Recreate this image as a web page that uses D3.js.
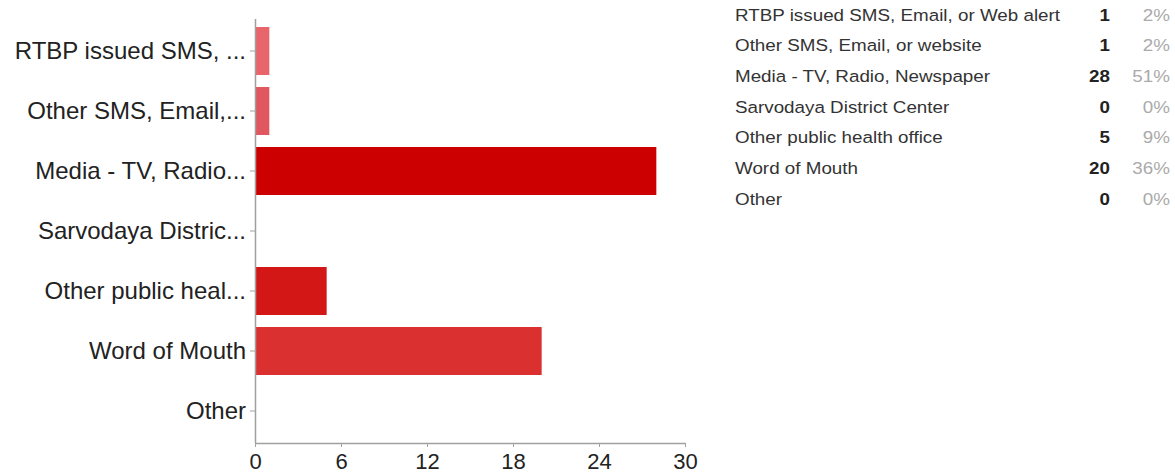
<!DOCTYPE html>
<html>
<head>
<meta charset="utf-8">
<script src="https://cdn.jsdelivr.net/npm/d3@7"></script>
<style>
  body { margin: 0; background: #fff; }
  svg { display: block; font-family: "Liberation Sans", Arial, sans-serif; }
</style>
</head>
<body>
<div id="chart"></div>
<script>
const axisLabels = [
  "RTBP issued SMS, ...",
  "Other SMS, Email,...",
  "Media - TV, Radio...",
  "Sarvodaya Distric...",
  "Other public heal...",
  "Word of Mouth",
  "Other",
];
const fullLabels = [
  "RTBP issued SMS, Email, or Web alert",
  "Other SMS, Email, or website",
  "Media - TV, Radio, Newspaper",
  "Sarvodaya District Center",
  "Other public health office",
  "Word of Mouth",
  "Other",
];
const counts = [1, 1, 28, 0, 5, 20, 0];
const percents = ["2%", "2%", "51%", "0%", "9%", "36%", "0%"];
const barColors = ["#e9656c", "#e0575f", "#cc0000", "#cc0000", "#d31717", "#da3030", "#cc0000"];
const xTicks = [0, 6, 12, 18, 24, 30];

const width = 1175;
const height = 475;
const stretch = 1.14;

const svg = d3
  .select("#chart")
  .append("svg")
  .attr("width", width)
  .attr("height", height)
  .attr("viewBox", [0, 0, width, height]);

const xScale = d3.scaleLinear().domain([0, 30]).range([255, 685]);
const yScale = d3.scaleBand().domain(d3.range(axisLabels.length)).range([21, 441]).paddingInner(0.2).paddingOuter(0.1);

// bars
svg
  .append("g")
  .selectAll("rect")
  .data(counts)
  .join("rect")
  .attr("x", xScale(0) + 1)
  .attr("y", (d, i) => yScale(i))
  .attr("width", (d) => Math.max(0, xScale(d) - xScale(0) - 1))
  .attr("height", yScale.bandwidth())
  .attr("fill", (d, i) => barColors[i]);

// y axis
svg
  .append("g")
  .attr("transform", `translate(${xScale(0)},0)`)
  .call(d3.axisLeft(yScale).tickSize(5).tickSizeOuter(0).tickPadding(4).tickFormat((i) => axisLabels[i]))
  .call((axis) => axis.select(".domain").attr("stroke", "#a0a0a0").attr("stroke-width", 1.5).attr("d", "M0.5,19V443"))
  .call((axis) => axis.selectAll(".tick line").attr("stroke", "#a0a0a0"))
  .call((axis) =>
    axis
      .selectAll(".tick text")
      .attr("fill", "#222")
      .style("font-size", "24px")
      .style("font-family", "'Liberation Sans', Arial, sans-serif"),
  );

// x axis
svg
  .append("g")
  .attr("transform", "translate(0,443)")
  .call(d3.axisBottom(xScale).tickValues(xTicks).tickSize(4).tickSizeOuter(0).tickPadding(6))
  .call((axis) => axis.select(".domain").attr("stroke", "#a0a0a0").attr("stroke-width", 1.5))
  .call((axis) => axis.selectAll(".tick line").attr("stroke", "#a0a0a0"))
  .call((axis) =>
    axis
      .selectAll(".tick text")
      .attr("fill", "#222")
      .style("font-size", "22px")
      .style("font-family", "'Liberation Sans', Arial, sans-serif"),
  );

// summary table
const rowScale = d3.scalePoint().domain(d3.range(fullLabels.length)).range([15, 199]);

const rows = svg
  .append("g")
  .selectAll("g")
  .data(fullLabels)
  .join("g")
  .attr("transform", (d, i) => `translate(0,${rowScale(i)})`)
  .style("font-size", "16.5px");

rows
  .append("text")
  .attr("transform", `translate(735,0) scale(${stretch},1)`)
  .attr("dy", "0.35em")
  .attr("fill", "#333")
  .text((d) => d);

rows
  .append("text")
  .attr("transform", `translate(1110,0) scale(${stretch},1)`)
  .attr("dy", "0.35em")
  .attr("text-anchor", "end")
  .attr("fill", "#222")
  .attr("font-weight", "bold")
  .text((d, i) => counts[i]);

rows
  .append("text")
  .attr("transform", `translate(1170,0) scale(${stretch},1)`)
  .attr("dy", "0.35em")
  .attr("text-anchor", "end")
  .attr("fill", "#aaa")
  .text((d, i) => percents[i]);
</script>
</body>
</html>
